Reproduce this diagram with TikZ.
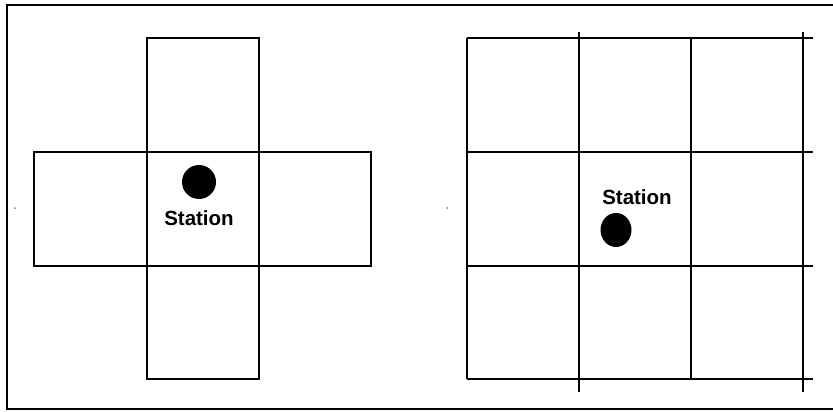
\documentclass[tikz,border=0pt]{standalone}
\usepackage{fontspec}
\setmainfont{Liberation Sans}
\usetikzlibrary{shapes.geometric}
\tikzset{
  cell/.style={line width=1.3pt},
  station/.style={fill,inner sep=0pt},
  stationlabel/.style={font=\bfseries\fontsize{20.5}{21}\selectfont,inner sep=0pt}
}
\begin{document}
\begin{tikzpicture}[x=1pt,y=-1pt]
  \useasboundingbox (0,0) rectangle (833,412);
  % frame
  \draw[line width=2.6pt] (840,5) -- (7,5) -- (7,409) -- (840,409);
  \fill[gray] (15,208) circle (1pt);
  \fill[gray] (447,208) circle (1pt);
  % cross of cells
  \draw[cell] (147,38) rectangle (259,379);
  \draw[cell] (34,152) rectangle (371,266);
  \node[station,circle,minimum size=34pt] (dotA) at (199,182) {};
  \node[stationlabel] (labA) at (199,218) {Station};
  % square grid
  \foreach \y in {38,152,266,379} \draw[cell] (467,\y) -- (813,\y);
  \foreach \x in {467,691} \draw[cell] (\x,38) -- (\x,379);
  \foreach \x in {579,803} \draw[cell] (\x,32) -- (\x,392);
  \node[stationlabel] (labB) at (637,197) {Station};
  \node[station,ellipse,minimum width=31pt,minimum height=34pt] (dotB) at (616,230) {};
\end{tikzpicture}
\end{document}
